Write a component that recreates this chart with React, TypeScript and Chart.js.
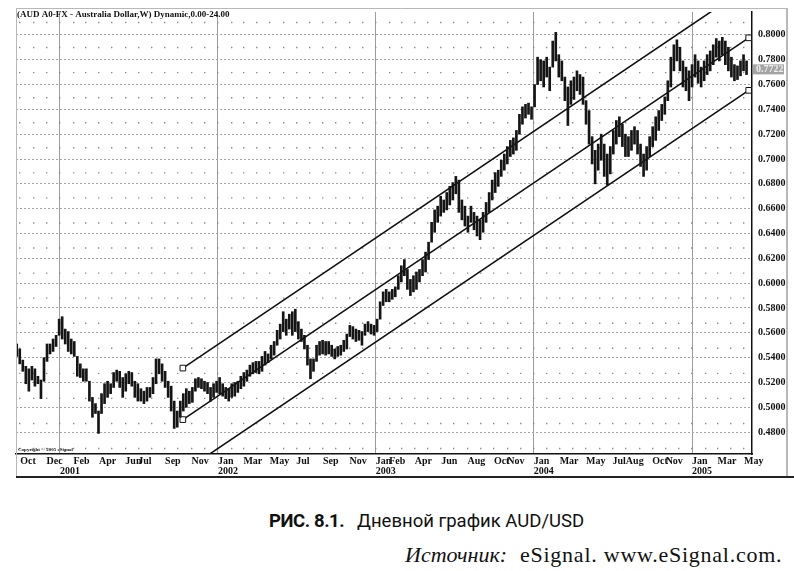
import React, { useEffect, useRef } from "react";
import { Chart, registerables } from "chart.js";

Chart.register(...registerables);

// ---- data ----
const firstWeek = "2000-09-23"; // date of first weekly bar
const weeklyHigh = [
  0.551, 0.547, 0.538, 0.533, 0.531, 0.533, 0.531, 0.525, 0.522, 0.540,
  0.551, 0.551, 0.555, 0.558, 0.571, 0.573, 0.563, 0.561, 0.555, 0.553,
  0.541, 0.535, 0.531, 0.531, 0.521, 0.508, 0.503, 0.497, 0.511, 0.519,
  0.521, 0.519, 0.528, 0.530, 0.529, 0.524, 0.527, 0.529, 0.528, 0.521,
  0.519, 0.515, 0.513, 0.516, 0.516, 0.524, 0.539, 0.539, 0.535, 0.529,
  0.521, 0.517, 0.505, 0.497, 0.505, 0.511, 0.515, 0.513, 0.516, 0.523,
  0.524, 0.523, 0.521, 0.520, 0.516, 0.519, 0.521, 0.524, 0.519, 0.516,
  0.515, 0.519, 0.520, 0.521, 0.525, 0.528, 0.530, 0.534, 0.536, 0.537,
  0.537, 0.541, 0.545, 0.543, 0.550, 0.553, 0.562, 0.567, 0.577, 0.571,
  0.575, 0.577, 0.579, 0.569, 0.563, 0.558, 0.550, 0.539, 0.539, 0.550,
  0.553, 0.554, 0.553, 0.553, 0.550, 0.547, 0.549, 0.550, 0.554, 0.559,
  0.566, 0.565, 0.563, 0.562, 0.561, 0.567, 0.569, 0.567, 0.566, 0.571,
  0.585, 0.593, 0.595, 0.593, 0.595, 0.597, 0.606, 0.614, 0.619, 0.611,
  0.603, 0.606, 0.609, 0.611, 0.619, 0.625, 0.633, 0.649, 0.659, 0.662,
  0.670, 0.667, 0.673, 0.678, 0.681, 0.686, 0.683, 0.667, 0.662, 0.654,
  0.662, 0.657, 0.654, 0.651, 0.657, 0.665, 0.673, 0.683, 0.689, 0.691,
  0.699, 0.704, 0.710, 0.715, 0.717, 0.723, 0.736, 0.742, 0.744, 0.745,
  0.742, 0.760, 0.782, 0.780, 0.779, 0.782, 0.774, 0.795, 0.802, 0.784,
  0.779, 0.766, 0.758, 0.763, 0.766, 0.771, 0.768, 0.766, 0.747, 0.739,
  0.718, 0.707, 0.712, 0.720, 0.712, 0.704, 0.710, 0.723, 0.731, 0.734,
  0.728, 0.720, 0.718, 0.723, 0.726, 0.723, 0.712, 0.704, 0.710, 0.718,
  0.726, 0.734, 0.739, 0.744, 0.750, 0.763, 0.782, 0.792, 0.796, 0.790,
  0.779, 0.774, 0.771, 0.776, 0.784, 0.779, 0.774, 0.779, 0.784, 0.787,
  0.792, 0.797, 0.795, 0.798, 0.795, 0.790, 0.782, 0.776, 0.775, 0.779,
  0.784, 0.779,
];
const weeklyLow = [
  0.541, 0.535, 0.529, 0.519, 0.513, 0.522, 0.517, 0.519, 0.507, 0.521,
  0.537, 0.543, 0.545, 0.549, 0.558, 0.555, 0.551, 0.545, 0.543, 0.541,
  0.525, 0.524, 0.521, 0.521, 0.505, 0.492, 0.495, 0.479, 0.495, 0.503,
  0.508, 0.511, 0.516, 0.521, 0.516, 0.508, 0.513, 0.519, 0.517, 0.508,
  0.505, 0.505, 0.503, 0.505, 0.508, 0.511, 0.519, 0.527, 0.521, 0.516,
  0.508, 0.497, 0.483, 0.484, 0.492, 0.497, 0.500, 0.503, 0.504, 0.513,
  0.516, 0.515, 0.513, 0.511, 0.505, 0.508, 0.512, 0.511, 0.509, 0.507,
  0.505, 0.508, 0.509, 0.512, 0.515, 0.517, 0.521, 0.525, 0.527, 0.528,
  0.527, 0.529, 0.534, 0.536, 0.539, 0.542, 0.550, 0.555, 0.561, 0.558,
  0.563, 0.558, 0.561, 0.555, 0.553, 0.547, 0.534, 0.523, 0.529, 0.537,
  0.542, 0.543, 0.542, 0.543, 0.541, 0.539, 0.541, 0.542, 0.545, 0.547,
  0.557, 0.555, 0.553, 0.554, 0.550, 0.558, 0.561, 0.559, 0.558, 0.561,
  0.571, 0.582, 0.585, 0.585, 0.587, 0.589, 0.595, 0.601, 0.606, 0.595,
  0.590, 0.593, 0.595, 0.601, 0.606, 0.609, 0.619, 0.633, 0.641, 0.649,
  0.654, 0.657, 0.659, 0.663, 0.667, 0.672, 0.657, 0.651, 0.646, 0.641,
  0.649, 0.643, 0.638, 0.635, 0.641, 0.649, 0.657, 0.667, 0.673, 0.678,
  0.686, 0.691, 0.696, 0.702, 0.704, 0.707, 0.720, 0.728, 0.733, 0.736,
  0.732, 0.742, 0.760, 0.763, 0.758, 0.766, 0.755, 0.774, 0.779, 0.766,
  0.763, 0.747, 0.727, 0.744, 0.748, 0.755, 0.752, 0.744, 0.728, 0.712,
  0.696, 0.680, 0.691, 0.699, 0.686, 0.679, 0.688, 0.704, 0.712, 0.718,
  0.710, 0.702, 0.702, 0.707, 0.712, 0.704, 0.694, 0.686, 0.691, 0.702,
  0.710, 0.715, 0.723, 0.731, 0.736, 0.747, 0.758, 0.771, 0.779, 0.771,
  0.758, 0.755, 0.747, 0.758, 0.766, 0.761, 0.758, 0.763, 0.768, 0.771,
  0.776, 0.782, 0.779, 0.784, 0.776, 0.771, 0.766, 0.763, 0.764, 0.767,
  0.771, 0.768,
];
const lastPrice = 0.7722;

const priceTicks = [
  0.48, 0.5, 0.52, 0.54, 0.56, 0.58, 0.6, 0.62, 0.64, 0.66, 0.68, 0.7, 0.72,
  0.74, 0.76, 0.78, 0.8,
];

const monthTickDates = [
  "2000-10-01", "2000-12-01", "2001-01-01", "2001-02-01", "2001-04-01",
  "2001-06-01", "2001-07-01", "2001-09-01", "2001-11-01", "2002-01-01",
  "2002-03-01", "2002-05-01", "2002-07-01", "2002-09-01", "2002-11-01",
  "2003-01-01", "2003-02-01", "2003-04-01", "2003-06-01", "2003-08-01",
  "2003-10-01", "2003-11-01", "2004-01-01", "2004-03-01", "2004-05-01",
  "2004-07-01", "2004-08-01", "2004-10-01", "2004-11-01", "2005-01-01",
  "2005-03-01", "2005-05-01",
];
const monthTickNames = [
  "Oct", "Dec", "", "Feb", "Apr", "Jun", "Jul", "Sep", "Nov", "Jan", "Mar",
  "May", "Jul", "Sep", "Nov", "Jan", "Feb", "Apr", "Jun", "Aug", "Oct", "Nov",
  "Jan", "Mar", "May", "Jul", "Aug", "Oct", "Nov", "Jan", "Mar", "May",
];
const gridMonthsFrom = "2000-10";
const gridMonthsTo = "2005-05";

const channelDates = ["2001-10-12", "2005-05-12"];
const upperChannel = [0.5316, 0.8391];
const middleChannel = [0.4901, 0.7976];
const lowerChannel = [0.4478, 0.7553];

const titleText = "(AUD A0-FX - Australia Dollar,W) Dynamic,0.00-24.00";
const copyrightText = "Copyright © 2005 eSignal";

// ---- helpers ----
const EPOCH = Date.UTC(2001, 0, 1);
function dayNum(s: string): number {
  const [y, m, d] = s.split("-").map(Number);
  return (Date.UTC(y, m - 1, d || 1) - EPOCH) / 86400000;
}

function monthStarts(from: string, to: string): number[] {
  const [fy, fm] = from.split("-").map(Number);
  const [ty, tm] = to.split("-").map(Number);
  const out: number[] = [];
  let y = fy, m = fm;
  while (y < ty || (y === ty && m <= tm)) {
    out.push((Date.UTC(y, m - 1, 1) - EPOCH) / 86400000);
    m++;
    if (m > 12) { m = 1; y++; }
  }
  return out;
}

const serif = '"Liberation Serif", "Times New Roman", serif';

export default function App() {
  const ref = useRef<HTMLCanvasElement | null>(null);

  useEffect(() => {
    if (!ref.current) return;
    const d0 = dayNum(firstWeek);
    const bars = weeklyHigh.map((h, i) => ({ x: d0 + 7 * i, y: [weeklyLow[i], h] }));
    const tickDays = monthTickDates.map(dayNum);
    const tickLabels = monthTickDates.map((s, i) =>
      s.endsWith("-01-01") ? [monthTickNames[i], s.slice(0, 4)] : monthTickNames[i]
    );
    const isYear = monthTickDates.map((s) => s.endsWith("-01-01"));
    const gridMonths = monthStarts(gridMonthsFrom, gridMonthsTo);
    const cd = channelDates.map(dayNum);
    const mkLine = (vals: number[]) => ({
      type: "line" as const,
      data: [{ x: cd[0], y: vals[0] }, { x: cd[1], y: vals[1] }],
      borderColor: "#111",
      borderWidth: 1.6,
      pointStyle: "rect" as const,
      pointRadius: 4,
      pointBackgroundColor: "#fff",
      pointBorderColor: "#111",
      pointBorderWidth: 1,
      clip: 0,
      xAxisID: "x",
      yAxisID: "y",
    });

    const framePlugin = {
      id: "frame",
      afterDraw(chart: any) {
        const { ctx, scales } = chart;
        const ys = scales.y;
        ctx.save();
        // outer frame
        ctx.strokeStyle = "#b8b8b8";
        ctx.lineWidth = 1;
        ctx.beginPath();
        ctx.moveTo(16.5, 8);
        ctx.lineTo(16.5, 477);
        ctx.moveTo(16, 8.5);
        ctx.lineTo(787, 8.5);
        ctx.stroke();
        ctx.lineWidth = 2;
        ctx.beginPath();
        ctx.moveTo(787, 8);
        ctx.lineTo(787, 477);
        ctx.stroke();
        ctx.strokeStyle = "#222";
        ctx.lineWidth = 2;
        ctx.beginPath();
        ctx.moveTo(16, 477);
        ctx.lineTo(794, 477);
        ctx.stroke();
        // title
        ctx.fillStyle = "#111";
        ctx.font = `bold 9px ${serif}`;
        ctx.textBaseline = "alphabetic";
        ctx.textAlign = "left";
        ctx.fillText(titleText, 17, 17);
        // copyright
        ctx.font = `bold 5px ${serif}`;
        ctx.fillText(copyrightText, 18, 451);
        // last price box
        const py = ys.getPixelForValue(lastPrice);
        ctx.fillStyle = "#a4a4a4";
        ctx.fillRect(753, py - 5, 31, 10);
        ctx.fillStyle = "#eeeeee";
        ctx.font = `bold 10px ${serif}`;
        ctx.textBaseline = "middle";
        ctx.fillText(lastPrice.toFixed(4), 756, py + 0.5);
        ctx.restore();
      },
    };

    const chart = new Chart(ref.current, {
      type: "bar",
      data: {
        datasets: [
          {
            type: "bar",
            data: bars as any,
            backgroundColor: "#151515",
            borderWidth: 0,
            barThickness: 2,
            grouped: false,
            xAxisID: "x",
            yAxisID: "y",
          } as any,
          mkLine(upperChannel),
          mkLine(middleChannel),
          mkLine(lowerChannel),
        ],
      },
      options: {
        responsive: false,
        animation: false,
        devicePixelRatio: 1,
        layout: { padding: { left: 16, top: 8, right: 0, bottom: 0 } },
        plugins: { legend: { display: false }, tooltip: { enabled: false }, title: { display: false } },
        scales: {
          x: {
            type: "linear",
            position: "bottom",
            min: -101.7,
            max: 1599.6,
            bounds: "data",
            offset: false,
            afterBuildTicks: (s: any) => {
              s.ticks = tickDays.map((v) => ({ value: v }));
            },
            afterFit: (s: any) => {
              s.height = 36;
            },
            ticks: {
              autoSkip: false,
              maxRotation: 0,
              minRotation: 0,
              align: "start",
              padding: 2,
              color: "#111",
              font: { family: serif, size: 10, weight: "bold", lineHeight: 1.05 },
              callback: (_v: any, i: number) => tickLabels[i],
            },
            grid: {
              offset: false,
              drawTicks: false,
              lineWidth: 1,
              color: (c: any) => (isYear[c.index] ? "#9c9c9c" : "rgba(0,0,0,0)"),
            },
            border: { display: true, color: "#111", width: 1.5 },
          } as any,
          xm: {
            type: "linear",
            position: "bottom",
            min: -101.7,
            max: 1599.6,
            bounds: "data",
            offset: false,
            afterBuildTicks: (s: any) => {
              s.ticks = gridMonths.map((v) => ({ value: v }));
            },
            afterFit: (s: any) => {
              s.height = 0;
            },
            ticks: { display: false },
            grid: { offset: false, drawTicks: false, lineWidth: 1.4, color: "#8c8c8c" },
            border: { display: false, dash: [1.4, 23.66], dashOffset: 15.26 },
          } as any,
          y: {
            type: "linear",
            position: "right",
            min: 0.4624,
            max: 0.8184,
            bounds: "data",
            afterBuildTicks: (s: any) => {
              s.ticks = priceTicks.map((v) => ({ value: v }));
            },
            afterFit: (s: any) => {
              s.width = 42;
            },
            ticks: {
              padding: 6,
              color: "#111",
              font: { family: serif, size: 10, weight: "bold" },
              callback: (v: any) => Number(v).toFixed(4),
            },
            grid: { drawTicks: false, lineWidth: 1, color: "#a2a2a2" },
            border: { display: true, color: "#111", width: 1.5, dash: [2, 2] },
          } as any,
        },
      },
      plugins: [framePlugin],
    } as any);
    return () => chart.destroy();
  }, []);

  return (
    <div
      style={{
        position: "absolute",
        left: 0,
        top: 0,
        width: 794,
        height: 571,
        background: "#fff",
        overflow: "hidden",
      }}
    >
      <canvas
        ref={ref}
        width={794}
        height={490}
        style={{ position: "absolute", left: 0, top: 0, width: 794, height: 490 }}
      />
      <div
        style={{
          position: "absolute",
          left: 269,
          top: 511,
          font: "bold 18.5px Roboto, sans-serif",
          lineHeight: "20px",
          letterSpacing: "-0.4px",
          color: "#111",
          whiteSpace: "nowrap",
        }}
      >
        РИС. 8.1.
      </div>
      <div
        style={{
          position: "absolute",
          left: 357,
          top: 511,
          font: "18.5px Roboto, sans-serif",
          lineHeight: "20px",
          color: "#111",
          whiteSpace: "nowrap",
        }}
      >
        Дневной график AUD/USD
      </div>
      <div
        style={{
          position: "absolute",
          left: 405,
          top: 544,
          font: `italic 22px ${serif}`,
          lineHeight: "22px",
          color: "#111",
          whiteSpace: "nowrap",
        }}
      >
        Источник:
      </div>
      <div
        style={{
          position: "absolute",
          left: 520,
          top: 544,
          font: `22px ${serif}`,
          lineHeight: "22px",
          letterSpacing: "0.75px",
          color: "#111",
          whiteSpace: "nowrap",
        }}
      >
        eSignal. www.eSignal.com.
      </div>
    </div>
  );
}
